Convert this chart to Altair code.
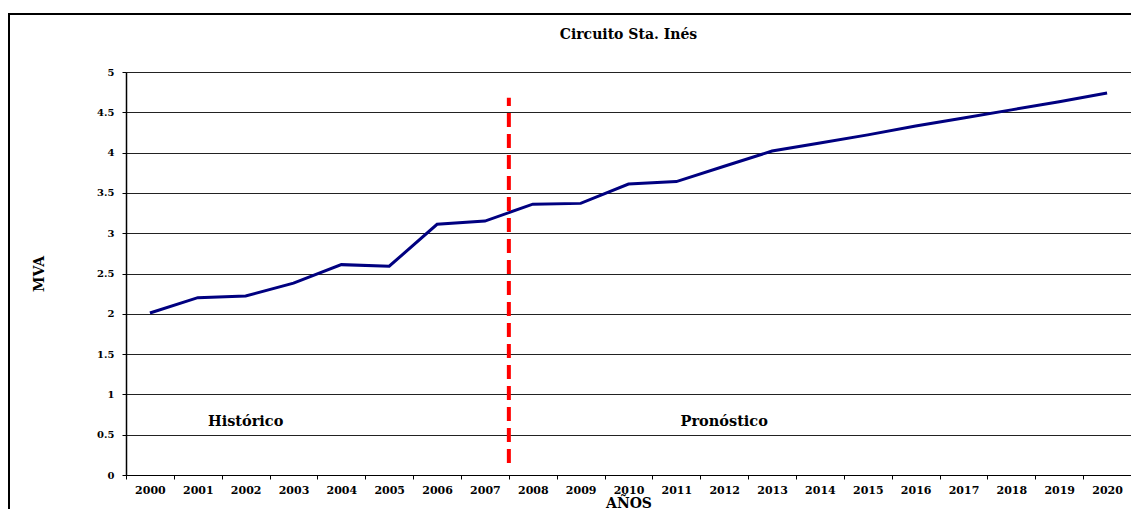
import altair as alt
import pandas as pd

years = [str(y) for y in range(2000, 2021)]
mva = [2.01, 2.20, 2.22, 2.38, 2.61, 2.59, 3.11, 3.15, 3.36, 3.37, 3.61,
       3.64, 3.83, 4.02, 4.12, 4.22, 4.33, 4.43, 4.53, 4.63, 4.74]

split_year = ["2008"]
split_low = [0.15]
split_high = [4.68]

label_text = ["Histórico", "Pronóstico"]
label_year = ["2002", "2012"]
label_y = [0.66, 0.66]

FONT = "DejaVu Serif"
W, H = 1005, 403

df = pd.DataFrame({"year": years, "mva": mva})
df_split = pd.DataFrame({"year": split_year, "lo": split_low, "hi": split_high})
df_lab = pd.DataFrame({"text": label_text, "year": label_year, "y": label_y})

xscale = alt.Scale(type="band", domain=years, paddingInner=0, paddingOuter=0)
yscale = alt.Scale(domain=[0, 5], nice=False)

line = alt.Chart(df).mark_line(color="#000080", strokeWidth=3).encode(
    x=alt.X("year:O", scale=xscale, title="AÑOS",
            axis=alt.Axis(labelAngle=0, tickBand="extent", domainColor="#000",
                          tickColor="#000", tickSize=4, labelPadding=5,
                          labelFont=FONT, labelFontWeight="bold", labelFontSize=11,
                          labelColor="#000", titleFont=FONT, titleFontWeight="bold",
                          titleFontSize=14, titleColor="#000", titleY=32,
                          titleBaseline="alphabetic", grid=False)),
    y=alt.Y("mva:Q", scale=yscale, title="MVA",
            axis=alt.Axis(values=[0, 0.5, 1, 1.5, 2, 2.5, 3, 3.5, 4, 4.5, 5],
                          format="~g", domainColor="#000", domainWidth=1.5,
                          tickColor="#000", tickSize=4, labelPadding=8,
                          labelFont=FONT, labelFontWeight="bold", labelFontSize=10,
                          labelColor="#000", titleFont=FONT, titleFontWeight="bold",
                          titleFontSize=14, titleColor="#000", titlePadding=50,
                          grid=True, gridColor="#222", gridWidth=1)),
)

split = alt.Chart(df_split).mark_rule(color="#ff0000", strokeWidth=4,
                                      strokeDash=[14, 7]).encode(
    x=alt.X("year:O", scale=xscale, bandPosition=0),
    y=alt.Y("lo:Q", scale=yscale),
    y2="hi:Q",
)

labels = alt.Chart(df_lab).mark_text(font=FONT, fontWeight="bold", fontSize=14.5,
                                     color="#000").encode(
    x=alt.X("year:O", scale=xscale),
    y=alt.Y("y:Q", scale=yscale),
    text="text:N",
)

frame_left = alt.Chart(df.head(1)).mark_rule(color="#000", strokeWidth=2).encode(
    x=alt.value(-117), y=alt.value(-59), y2=alt.value(H + 40))
frame_top = alt.Chart(df.head(1)).mark_rule(color="#000", strokeWidth=2).encode(
    x=alt.value(-118), x2=alt.value(W + 2), y=alt.value(-58))

chart = alt.layer(frame_left, frame_top, line, split, labels).properties(
    width=W, height=H,
    title=alt.TitleParams("Circuito Sta. Inés", font=FONT, fontWeight="bold",
                          fontSize=14, color="#000", anchor="middle", offset=-30),
    autosize=alt.AutoSizeParams(type="none"),
    padding={"left": 118, "top": 64, "right": 0, "bottom": 34},
).configure_view(stroke="#999", strokeWidth=1)

chart.save("out.html", embed_options={"renderer": "svg", "actions": False})
